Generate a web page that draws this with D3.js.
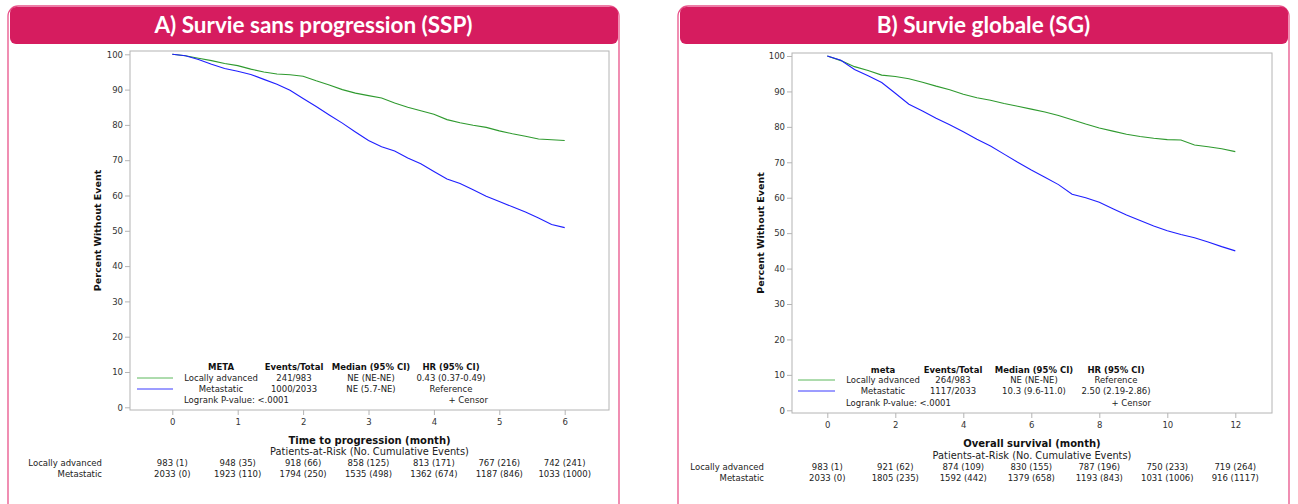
<!DOCTYPE html>
<html>
<head>
<meta charset="utf-8">
<script src="https://cdn.jsdelivr.net/npm/d3@7"></script>
<style>
  body { margin: 0; background: #fff; }
  text { font-family: "DejaVu Sans", sans-serif; }
</style>
</head>
<body>
<div id="chart"></div>
<script>
// --- data ---
const sspTime = [0, 0.2, 0.4, 0.6, 0.8, 1.0, 1.2, 1.4, 1.6, 1.8, 2.0, 2.2, 2.4, 2.6, 2.8, 3.0,
  3.2, 3.4, 3.6, 3.8, 4.0, 4.2, 4.4, 4.6, 4.8, 5.0, 5.2, 5.4, 5.6, 5.8, 6.0];
const sspLocal = [100, 99.6, 98.9, 98.2, 97.4, 96.8, 95.8, 95.0, 94.4, 94.2, 93.8, 92.5, 91.3, 90.0, 89.0, 88.3,
  87.6, 86.2, 85.0, 84.0, 83.0, 81.5, 80.6, 79.9, 79.3, 78.3, 77.5, 76.8, 76.0, 75.8, 75.6];
const sspMeta = [100, 99.6, 98.5, 97.2, 96.0, 95.2, 94.3, 92.9, 91.5, 89.8, 87.5, 85.2, 82.8, 80.5, 78.0, 75.6,
  73.8, 72.6, 70.6, 69.0, 66.8, 64.7, 63.4, 61.6, 59.8, 58.3, 56.8, 55.3, 53.6, 51.8, 50.9];

const sgTime = [0, 0.4, 0.8, 1.2, 1.6, 2.0, 2.4, 2.8, 3.2, 3.6, 4.0, 4.4, 4.8, 5.2, 5.6, 6.0,
  6.4, 6.8, 7.2, 7.6, 8.0, 8.4, 8.8, 9.2, 9.6, 10.0, 10.4, 10.8, 11.2, 11.6, 12.0];
const sgLocal = [100, 98.7, 97.0, 95.9, 94.6, 94.2, 93.6, 92.6, 91.5, 90.5, 89.2, 88.2, 87.5, 86.6, 85.8, 85.0,
  84.2, 83.2, 82.0, 80.8, 79.7, 78.8, 77.9, 77.3, 76.8, 76.4, 76.3, 74.9, 74.4, 73.8, 73.0];
const sgMeta = [100, 98.8, 96.2, 94.4, 92.5, 89.5, 86.4, 84.5, 82.4, 80.6, 78.6, 76.5, 74.6, 72.3, 70.0, 67.8,
  65.8, 63.7, 61.0, 60.0, 58.7, 56.9, 55.1, 53.6, 52.0, 50.7, 49.6, 48.7, 47.5, 46.2, 45.0];

const groups = ["Locally advanced", "Metastatic"];
const yTicks = [0, 10, 20, 30, 40, 50, 60, 70, 80, 90, 100];
const sspTicks = [0, 1, 2, 3, 4, 5, 6];
const sgTicks = [0, 2, 4, 6, 8, 10, 12];

const sspRiskLocal = ["983 (1)", "948 (35)", "918 (66)", "858 (125)", "813 (171)", "767 (216)", "742 (241)"];
const sspRiskMeta = ["2033 (0)", "1923 (110)", "1794 (250)", "1535 (498)", "1362 (674)", "1187 (846)", "1033 (1000)"];
const sgRiskLocal = ["983 (1)", "921 (62)", "874 (109)", "830 (155)", "787 (196)", "750 (233)", "719 (264)"];
const sgRiskMeta = ["2033 (0)", "1805 (235)", "1592 (442)", "1379 (658)", "1193 (843)", "1031 (1006)", "916 (1117)"];

const legendHead = ["Events/Total", "Median (95% CI)", "HR (95% CI)"];
const sspLegend = [["241/983", "NE (NE-NE)", "0.43 (0.37-0.49)"], ["1000/2033", "NE (5.7-NE)", "Reference"]];
const sgLegend = [["264/983", "NE (NE-NE)", "Reference"], ["1117/2033", "10.3 (9.6-11.0)", "2.50 (2.19-2.86)"]];

const GREEN = "#2f9a2f";
const BLUE = "#1f1fff";
const PINK = "#d61c5f";

const W = 1298, H = 504;

const svg = d3.select("#chart").append("svg")
  .attr("width", W)
  .attr("height", H);

function drawPanel(p) {
  const g = svg.append("g");

  // panel border and title band
  g.append("rect")
    .attr("x", p.px).attr("y", 6)
    .attr("width", p.pw).attr("height", 508)
    .attr("rx", 10)
    .attr("fill", "none")
    .attr("stroke", "#e8538a")
    .attr("stroke-width", 1.3);
  g.append("rect")
    .attr("x", p.px + 2).attr("y", 7)
    .attr("width", p.pw - 3).attr("height", 37)
    .attr("rx", 6)
    .attr("fill", PINK);
  g.append("text")
    .attr("x", p.px + p.pw / 2).attr("y", 33)
    .attr("text-anchor", "middle")
    .style("font-family", "Lato, sans-serif")
    .style("font-weight", "bold")
    .style("font-size", "22.5px")
    .attr("fill", "#fff")
    .text(p.title);

  const x = d3.scaleLinear().domain([0, p.xMax]).range(p.xRange);
  const y = d3.scaleLinear().domain([0, 100]).range(p.yRange);

  // frame
  g.append("rect")
    .attr("x", p.frame[0]).attr("y", p.frame[1])
    .attr("width", p.frame[2] - p.frame[0]).attr("height", p.frame[3] - p.frame[1])
    .attr("fill", "#fff")
    .attr("stroke", "#b4b4b4");

  const yAxis = g.append("g")
    .attr("transform", "translate(" + p.frame[0] + ",0)")
    .call(d3.axisLeft(y).tickValues(yTicks).tickSize(5).tickPadding(2).tickFormat(d3.format("d")));
  const xAxis = g.append("g")
    .attr("transform", "translate(0," + p.frame[3] + ")")
    .call(d3.axisBottom(x).tickValues(p.ticks).tickSize(5).tickPadding(4).tickFormat(d3.format("d")));
  [yAxis, xAxis].forEach(a => {
    a.select(".domain").remove();
    a.selectAll("line").attr("stroke", "#b4b4b4");
    a.selectAll("text")
      .style("font-family", "DejaVu Sans, sans-serif")
      .style("font-size", "8.5px")
      .attr("fill", "#333");
  });

  // axis titles
  g.append("text")
    .attr("transform", "translate(" + p.yTitleX + "," + ((p.frame[1] + p.frame[3]) / 2) + ") rotate(-90)")
    .attr("text-anchor", "middle")
    .style("font-size", "9.5px")
    .style("font-weight", "bold")
    .attr("fill", "#111")
    .text("Percent Without Event");
  const midX = (p.frame[0] + p.frame[2]) / 2;
  g.append("text")
    .attr("x", midX).attr("y", p.xTitleY)
    .attr("text-anchor", "middle")
    .style("font-size", "10px")
    .style("font-weight", "bold")
    .attr("fill", "#111")
    .text(p.xTitle);

  // curves
  const line = d3.line()
    .x(d => x(d[0]))
    .y(d => y(d[1]));
  [[p.local, GREEN], [p.meta, BLUE]].forEach(([vals, col]) => {
    g.append("path")
      .datum(p.time.map((t, i) => [t, vals[i]]))
      .attr("d", line)
      .attr("fill", "none")
      .attr("stroke", col)
      .attr("stroke-width", 1.1);
  });

  // legend inside plot
  const L = p.legend;
  const fs = "8.5px";
  g.append("text")
    .attr("x", L.cols[0]).attr("y", L.rows[0] + 3)
    .attr("text-anchor", "middle")
    .style("font-size", fs).style("font-weight", "bold").attr("fill", "#111")
    .text(L.head);
  legendHead.forEach((h, i) => {
    g.append("text")
      .attr("x", L.cols[i + 1]).attr("y", L.rows[0] + 3)
      .attr("text-anchor", "middle")
      .style("font-size", fs).style("font-weight", "bold").attr("fill", "#111")
      .text(h);
  });
  groups.forEach((grp, r) => {
    const ry = L.rows[r + 1];
    g.append("line")
      .attr("x1", L.line[0]).attr("x2", L.line[1])
      .attr("y1", ry).attr("y2", ry)
      .attr("stroke", r === 0 ? "#5cb85c" : "#3a3aff")
      .attr("stroke-width", 1);
    const cells = [grp].concat(p.legendRows[r]);
    cells.forEach((c, i) => {
      g.append("text")
        .attr("x", L.cols[i]).attr("y", ry + 3)
        .attr("text-anchor", "middle")
        .style("font-size", fs).attr("fill", "#222")
        .text(c);
    });
  });
  g.append("text")
    .attr("x", L.logX).attr("y", L.rows[3] + 3)
    .style("font-size", fs).attr("fill", "#222")
    .text("Logrank P-value: <.0001");
  g.append("text")
    .attr("x", L.censorX).attr("y", L.rows[3] + 3)
    .attr("text-anchor", "end")
    .style("font-size", fs).attr("fill", "#222")
    .text("+  Censor");

  // patients at risk
  g.append("text")
    .attr("x", midX).attr("y", p.riskY[0] + 3)
    .attr("text-anchor", "middle")
    .style("font-size", "9.8px").attr("fill", "#222")
    .text("Patients-at-Risk (No. Cumulative Events)");
  [p.riskLocal, p.riskMeta].forEach((row, r) => {
    const ry = p.riskY[r + 1] + 3;
    g.append("text")
      .attr("x", p.riskLabelX).attr("y", ry)
      .attr("text-anchor", "end")
      .style("font-size", "8.5px").attr("fill", "#222")
      .text(groups[r]);
    row.forEach((v, i) => {
      g.append("text")
        .attr("x", x(p.ticks[i])).attr("y", ry)
        .attr("text-anchor", "middle")
        .style("font-size", "8.5px").attr("fill", "#222")
        .text(v);
    });
  });
}

drawPanel({
  px: 8, pw: 611,
  title: "A) Survie sans progression (SSP)",
  frame: [130, 51, 609, 410],
  xMax: 6, xRange: [172.3, 564.7], yRange: [407.3, 54.3],
  ticks: sspTicks,
  time: sspTime, local: sspLocal, meta: sspMeta,
  yTitleX: 101, xTitleY: 444, xTitle: "Time to progression (month)",
  legend: { head: "META", cols: [221, 294, 371, 451], rows: [367, 378, 389, 400], line: [137, 173], logX: 184, censorX: 488 },
  legendRows: sspLegend,
  riskY: [452, 463, 474], riskLabelX: 102,
  riskLocal: sspRiskLocal, riskMeta: sspRiskMeta
});

drawPanel({
  px: 678, pw: 611,
  title: "B) Survie globale (SG)",
  frame: [792, 53, 1272, 413],
  xMax: 12, xRange: [827.3, 1235.3], yRange: [410.3, 56],
  ticks: sgTicks,
  time: sgTime, local: sgLocal, meta: sgMeta,
  yTitleX: 764, xTitleY: 447, xTitle: "Overall survival (month)",
  legend: { head: "meta", cols: [883, 953, 1034, 1116], rows: [370, 380, 391, 403], line: [798, 835], logX: 846, censorX: 1151 },
  legendRows: sgLegend,
  riskY: [456, 467, 478], riskLabelX: 764,
  riskLocal: sgRiskLocal, riskMeta: sgRiskMeta
});
</script>
</body>
</html>
